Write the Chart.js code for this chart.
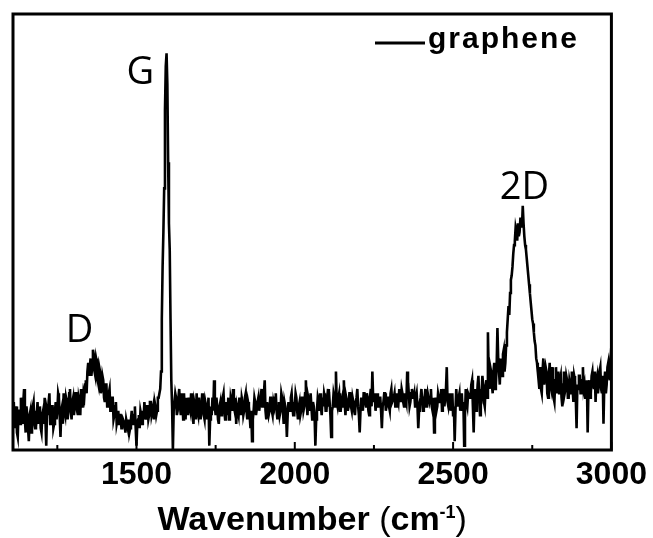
<!DOCTYPE html>
<html lang="en">
<head>
  <meta charset="UTF-8" />
  <title>Graphene Raman Spectrum</title>
  <script src="https://cdn.jsdelivr.net/npm/chart.js"></script>
  <style>
    body { margin: 0; background: #fff; }
    #raman { display: block; }
  </style>
</head>
<body>
  <canvas id="raman" width="653" height="538"></canvas>

  <script>
    // spectrum read every 2.5 cm-1 from 1110 cm-1: each segment has the readings
    // on the 5 cm-1 grid and the readings half a step later
    const waveStart = 1110;
    const waveStep = 2.5;

    // 1110 - 1332.5
    const baseLeft = [7, 5, 10, 3, 9, 12, 6, 14, 4, 8,
                      2, 9, 7, 11, 5, 8, 6, 10, 4, 9,
                      12, 1, 8, 13, 7, 10, 6, 11, 9, 12,
                      3, 10, 13, 8, 11, 9, 14, 7, 12, 10,
                      13, 8, 11, 14, 10];
    const baseLeftHalf = [11, 8, 4, 9, 6, 8, 11, 7, 10, 5,
                          8, 4, 10, 6, 9, 11, 9, 5, 8, 6,
                          7, 9, 11, 6, 10, 5, 9, 7, 13, 8,
                          9, 6, 9, 12, 7, 13, 9, 11, 8, 13,
                          9, 12, 8, 10, 13];
    // 1335 - 1442.5 (D band)
    const dBand = [12, 16, 18, 17, 21, 19, 22, 17, 20, 15,
                   18, 14, 16, 11, 15, 12, 14, 9, 12, 8, 11, 7];
    const dBandHalf = [15, 13, 20, 19, 17, 23, 18, 21, 16, 19,
                       13, 17, 12, 15, 10, 13, 9, 12, 7, 10, 6, 9];
    // 1445 - 1572.5
    const baseDG = [6, 8, 5, 7, 4, 6, 7, 5, 9, 6,
                    10, 1, 7, 5, 8, 9, 11, 7, 10, 8,
                    11, 9, 7, 10, 9, 12];
    const baseDGHalf = [8, 5, 7, 6, 7, 5, 4, 7, 6, 8,
                        5, 6, 8, 9, 6, 7, 8, 10, 7, 11,
                        8, 10, 11, 8, 12, 13];
    // 1575 - 1622.5 (G band)
    const gBand = [14, 30, 50, 78, 91, 66, 46, 16, 0, 11];
    const gBandHalf = [18, 42, 60, 88, 84, 52, 30, 10, 9, 13];
    // 1625 - 2552.5
    const baseMid = [12, 9, 14, 8, 11, 13, 7, 10, 12, 9,
                     11, 6, 10, 13, 8, 12, 9, 11, 7, 10,
                     9, 1, 10, 12, 16, 8, 10, 6, 11, 9,
                     13, 7, 10, 12, 8, 11, 14, 9, 6, 10,
                     12, 8, 11, 9, 13, 7, 10, 5, 2, 9,
                     11, 8, 12, 9, 14, 10, 16, 7, 11, 9,
                     12, 8, 10, 13, 7, 11, 9, 12, 6, 10,
                     3, 11, 9, 13, 8, 10, 12, 7, 11, 9,
                     12, 10, 16, 8, 11, 13, 7, 10, 1, 9,
                     11, 13, 8, 10, 12, 9, 14, 11, 3, 10,
                     12, 18, 10, 13, 9, 12, 16, 8, 11, 10,
                     13, 9, 11, 8, 12, 10, 4, 12, 9, 13,
                     10, 12, 8, 14, 18, 11, 9, 13, 10, 12,
                     5, 11, 13, 10, 12, 9, 14, 11, 13, 10,
                     12, 14, 11, 13, 10, 12, 18, 13, 11, 14,
                     12, 10, 13, 5, 11, 14, 9, 12, 10, 13,
                     11, 14, 9, 4, 12, 10, 13, 11, 9, 14,
                     12, 19, 10, 13, 11, 8, 2, 14, 10, 13,
                     11, 9, 1, 14, 10, 13];
    const baseMidHalf = [8, 12, 10, 13, 7, 9, 12, 8, 10, 13,
                         8, 11, 7, 9, 12, 7, 13, 8, 11, 7,
                         12, 7, 8, 9, 10, 12, 7, 10, 8, 12,
                         9, 11, 8, 7, 12, 9, 10, 12, 10, 8,
                         9, 12, 8, 12, 9, 11, 8, 9, 7, 12,
                         8, 11, 9, 12, 10, 13, 9, 11, 8, 12,
                         9, 11, 12, 9, 10, 8, 13, 9, 11, 8,
                         8, 9, 12, 10, 11, 13, 9, 10, 8, 12,
                         9, 13, 11, 12, 9, 10, 11, 8, 7, 12,
                         9, 10, 12, 13, 9, 12, 10, 8, 9, 13,
                         10, 11, 12, 9, 11, 10, 11, 12, 9, 13,
                         10, 12, 9, 11, 14, 8, 9, 10, 13, 11,
                         13, 9, 12, 10, 12, 13, 11, 10, 12, 9,
                         10, 13, 9, 12, 10, 13, 11, 12, 10, 13,
                         11, 12, 14, 11, 13, 11, 12, 10, 13, 12,
                         13, 12, 10, 9, 12, 11, 12, 14, 11, 12,
                         12, 10, 12, 10, 9, 13, 11, 14, 12, 10,
                         14, 11, 12, 9, 13, 10, 9, 11, 12, 9,
                         13, 11, 8, 11, 13, 12];
    // 2555 - 2772.5 (2D band)
    const twoDBand = [12, 16, 4, 14, 11, 17, 8, 13, 15, 10,
                      16, 27, 14, 18, 13, 20, 15, 28,
                      18, 21, 17, 23, 20, 27, 33, 36, 40, 45,
                      48, 50, 52, 50, 53, 56, 49, 46, 42, 38,
                      34, 30, 27, 24, 20, 16];
    const twoDBandHalf = [15, 10, 12, 9, 15, 12, 14, 17, 11, 14,
                          12, 17, 19, 15, 18, 14, 19, 21,
                          15, 19, 22, 18, 24, 30, 31, 39, 42, 47,
                          51, 48, 49, 53, 51, 52, 47, 44, 40, 36,
                          32, 29, 25, 21, 18, 14];
    // 2775 - 3002.5
    const baseRight = [19, 13, 21, 15, 18, 12, 20, 14, 17, 11,
                       19, 15, 13, 17, 10, 18, 14, 16, 12, 15,
                       18, 11, 16, 5, 14, 17, 13, 19, 15, 12,
                       4, 16, 13, 18, 14, 11, 17, 15, 19, 13,
                       6, 18, 15, 20, 16, 24];
    const baseRightHalf = [14, 18, 15, 19, 13, 17, 15, 19, 12, 16,
                           13, 18, 16, 12, 15, 13, 17, 12, 16, 13,
                           14, 17, 12, 15, 17, 13, 16, 14, 12, 16,
                           14, 12, 17, 15, 18, 16, 13, 18, 14, 17,
                           15, 13, 19, 17, 21, 19];

    const xTicks = [1500, 2000, 2500, 3000];
    const minorTicks = [1250, 1750, 2250, 2750];
    const peakNames = ['D', 'G', '2D'];
    const peakAt = [1320, 1512, 2725];
    const peakHeight = [27.3, 86.5, 60];

    const segments = [
      [baseLeft, baseLeftHalf], [dBand, dBandHalf], [baseDG, baseDGHalf], [gBand, gBandHalf],
      [baseMid, baseMidHalf], [twoDBand, twoDBandHalf], [baseRight, baseRightHalf]
    ];
    const intensity = [];
    segments.forEach(([onGrid, half]) => {
      onGrid.forEach((v, i) => { intensity.push(v); if (half[i] !== undefined) intensity.push(half[i]); });
    });
    const points = intensity.map((v, i) => ({ x: waveStart + i * waveStep, y: v }));

    // frame, inward ticks, peak names, legend and axis title
    const decorations = {
      id: 'decorations',
      afterDraw(chart) {
        const { ctx, chartArea: a, scales: { x, y } } = chart;
        ctx.save();
        ctx.strokeStyle = '#000';
        ctx.fillStyle = '#000';
        ctx.lineWidth = 3;
        ctx.strokeRect(a.left, a.top, a.right - a.left, a.bottom - a.top);

        ctx.lineWidth = 2;
        ctx.beginPath();
        xTicks.forEach(v => { const p = x.getPixelForValue(v); ctx.moveTo(p, a.bottom); ctx.lineTo(p, a.bottom - 8); });
        minorTicks.forEach(v => { const p = x.getPixelForValue(v); ctx.moveTo(p, a.bottom); ctx.lineTo(p, a.bottom - 5); });
        ctx.stroke();

        ctx.font = '38px "Open Sans"';
        ctx.textAlign = 'center';
        ctx.textBaseline = 'middle';
        peakNames.forEach((n, i) => ctx.fillText(n, x.getPixelForValue(peakAt[i]), y.getPixelForValue(peakHeight[i])));

        // legend
        ctx.lineWidth = 3;
        ctx.beginPath(); ctx.moveTo(375, 43); ctx.lineTo(425, 43); ctx.stroke();
        ctx.font = 'bold 30px "Liberation Sans"';
        ctx.textAlign = 'left';
        ctx.textBaseline = 'alphabetic';
        ctx.letterSpacing = '2px';
        ctx.fillText('graphene', 428, 48);
        ctx.letterSpacing = '0px';

        // axis title with superscript
        const parts = [
          ['Wavenumber ', 'bold 34px "Liberation Sans"', 0],
          ['(', '34px "Liberation Sans"', 0],
          ['cm', 'bold 34px "Liberation Sans"', 0],
          ['-1', 'bold 18px "Liberation Sans"', -12],
          [')', '34px "Liberation Sans"', 0]
        ];
        let total = 0;
        parts.forEach(p => { ctx.font = p[1]; total += ctx.measureText(p[0]).width; });
        let cx = (a.left + a.right) / 2 - total / 2;
        parts.forEach(p => {
          ctx.font = p[1];
          ctx.fillText(p[0], cx, 530 + p[2]);
          cx += ctx.measureText(p[0]).width;
        });
        ctx.restore();
      }
    };

    new Chart(document.getElementById('raman'), {
      type: 'line',
      data: {
        datasets: [{
          label: 'graphene',
          data: points,
          borderColor: '#000',
          borderWidth: 2.6,
          pointRadius: 0,
          tension: 0,
          fill: false
        }]
      },
      options: {
        responsive: false,
        animation: false,
        devicePixelRatio: 1,
        layout: { padding: { left: 13, top: 14, right: 41, bottom: 0 } },
        plugins: { legend: { display: false }, tooltip: { enabled: false } },
        scales: {
          x: {
            type: 'linear',
            min: 1110,
            max: 3000,
            grid: { display: false, drawTicks: false },
            border: { display: false },
            afterBuildTicks: s => { s.ticks = xTicks.map(v => ({ value: v })); },
            afterFit: s => { s.height = 88; },
            ticks: {
              color: '#000',
              padding: 6,
              maxRotation: 0,
              autoSkip: false,
              callback: v => String(v),
              font: { family: 'Liberation Sans', size: 32, weight: 'bold' }
            }
          },
          y: { display: false, min: 0, max: 100 }
        }
      },
      plugins: [decorations]
    });
  </script>
</body>
</html>
